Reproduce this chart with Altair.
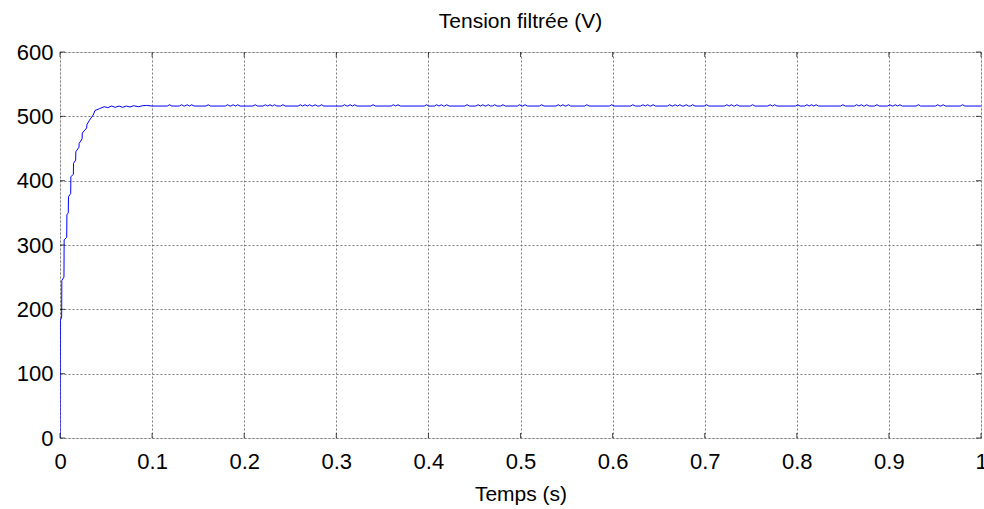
import altair as alt
import pandas as pd

# Rise phase (time in s, voltage in V)
rise_t = [0.0, 0.0004, 0.0018, 0.0020, 0.0043, 0.0045, 0.0073, 0.0075, 0.0090, 0.0092,
          0.0116, 0.0118, 0.0145, 0.0147, 0.0170, 0.0172, 0.0206, 0.0208, 0.0240, 0.0242,
          0.0290, 0.0292, 0.0320, 0.0360, 0.0380, 0.0430, 0.0480, 0.0520, 0.0560, 0.0600,
          0.0640, 0.0680, 0.0720, 0.0760, 0.0800, 0.0850, 0.0900, 0.0940, 0.1000]
rise_v = [0, 183, 188, 245, 250, 308, 312, 347, 350, 375,
          380, 406, 410, 427, 432, 445, 452, 458, 465, 474,
          482, 487, 494, 502, 509, 512, 515, 513.5, 516, 514,
          516, 514, 516, 514.5, 516.5, 515, 516.5, 517, 516]

# Steady state level and the small ripple bumps seen along the trace
steady_level = 516
bump_level = 518
bump_times = [0.119, 0.132, 0.138, 0.143, 0.161, 0.182, 0.188, 0.193, 0.212, 0.223,
              0.228, 0.233, 0.242, 0.261, 0.266, 0.271, 0.277, 0.284, 0.309, 0.315,
              0.320, 0.340, 0.362, 0.367, 0.398, 0.409, 0.414, 0.420, 0.442, 0.454,
              0.459, 0.465, 0.472, 0.481, 0.499, 0.505, 0.523, 0.541, 0.546, 0.552,
              0.572, 0.599, 0.622, 0.633, 0.638, 0.644, 0.662, 0.668, 0.673, 0.680,
              0.687, 0.702, 0.724, 0.729, 0.735, 0.752, 0.771, 0.776, 0.801, 0.811,
              0.816, 0.821, 0.850, 0.865, 0.870, 0.876, 0.887, 0.901, 0.907, 0.912,
              0.932, 0.953, 0.959, 0.980]

x_ticks = [0, 0.1, 0.2, 0.3, 0.4, 0.5, 0.6, 0.7, 0.8, 0.9, 1.0]
y_ticks = [0, 100, 200, 300, 400, 500, 600]

t_all = list(rise_t)
v_all = list(rise_v)
for b in bump_times:
    t_all += [b - 0.0025, b, b + 0.0025]
    v_all += [steady_level, bump_level, steady_level]
t_all.append(1.0)
v_all.append(steady_level)

df = pd.DataFrame({"t": t_all, "v": v_all}).sort_values("t").reset_index(drop=True)
df["i"] = range(len(df))

FONT = "Liberation Sans"
W, H = 921, 386
GRID = "#7a7a7a"

xs = alt.Scale(domain=[0, 1], nice=False, zero=False)
ys = alt.Scale(domain=[0, 600], nice=False, zero=False)

line = alt.Chart(df).mark_line(color="#0000ff", strokeWidth=1, clip=True).encode(
    x=alt.X("t:Q", scale=xs,
            axis=alt.Axis(values=x_ticks, format="~g", title="Temps (s)",
                          grid=True, gridColor=GRID, gridDash=[2, 2], gridWidth=1,
                          tickSize=0, domain=False, labelPadding=13,
                          labelFontSize=22, labelFont=FONT, labelColor="#000",
                          labelFlush=False, labelOverlap=False,
                          titleFont=FONT, titleFontSize=21, titleFontWeight="normal",
                          titleColor="#000", titlePadding=11)),
    y=alt.Y("v:Q", scale=ys,
            axis=alt.Axis(values=y_ticks, title=None,
                          grid=True, gridColor=GRID, gridDash=[2, 2], gridWidth=1,
                          tickSize=0, domain=False, labelPadding=7,
                          labelFontSize=22, labelFont=FONT, labelColor="#000",
                          labelFlush=False, labelOverlap=False)),
    order="i:Q",
)

xt = pd.DataFrame({"x": x_ticks})
yt = pd.DataFrame({"y": y_ticks})

tick_bottom = alt.Chart(xt).mark_tick(color="#000", size=5, thickness=1, orient="vertical").encode(
    x=alt.X("x:Q", scale=xs), y=alt.value(H - 2.5))
tick_top = alt.Chart(xt).mark_tick(color="#000", size=5, thickness=1, orient="vertical").encode(
    x=alt.X("x:Q", scale=xs), y=alt.value(2.5))
tick_left = alt.Chart(yt).mark_tick(color="#000", size=5, thickness=1, orient="horizontal").encode(
    y=alt.Y("y:Q", scale=ys), x=alt.value(2.5))
tick_right = alt.Chart(yt).mark_tick(color="#000", size=5, thickness=1, orient="horizontal").encode(
    y=alt.Y("y:Q", scale=ys), x=alt.value(W - 2.5))

chart = alt.layer(line, tick_bottom, tick_top, tick_left, tick_right).properties(
    width=W, height=H,
    title=alt.TitleParams("Tension filtrée (V)", font=FONT, fontSize=21,
                          fontWeight="normal", color="#000", offset=9),
    autosize=alt.AutoSizeParams(type="none"),
    padding={"left": 60, "top": 52, "right": 3, "bottom": 71},
).configure_view(stroke="#000", strokeWidth=1.5).configure(background="white")

chart.save("out.html", embed_options={"renderer": "svg", "actions": False})
